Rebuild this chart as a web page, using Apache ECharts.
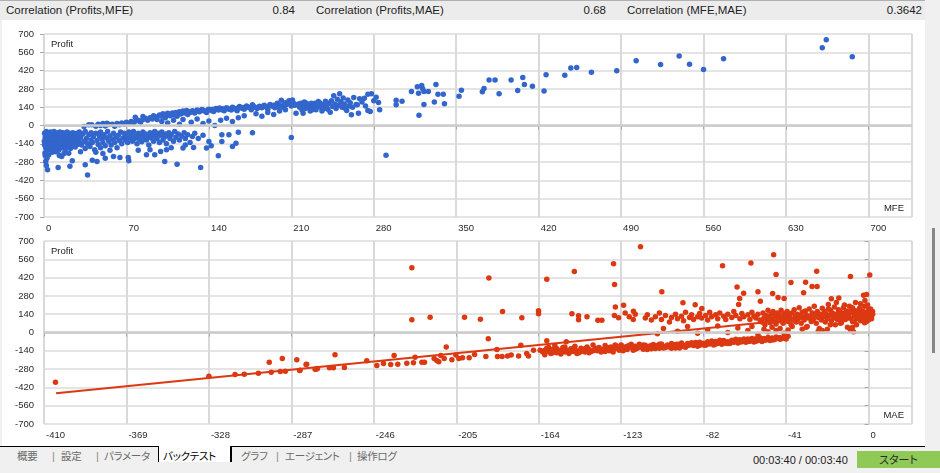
<!DOCTYPE html>
<html><head><meta charset="utf-8">
<script src="https://cdn.jsdelivr.net/npm/echarts@6/dist/echarts.min.js"></script>
<style>
html,body{margin:0;padding:0;width:940px;height:473px;overflow:hidden;background:#f0f0f0;font-family:'Liberation Sans',Arial,sans-serif;}
#white{position:absolute;left:2px;top:20px;width:923px;height:426px;background:#fff;}
#chart{position:absolute;left:0;top:0;width:940px;height:473px;}
#hdr{position:absolute;left:0;top:0;width:925px;height:20px;background:#ececec;border-top:1px solid #b0b0b0;box-sizing:border-box;font-size:11.5px;color:#1e1e1e;}
#hdr span{position:absolute;top:3px;white-space:nowrap;}
#scroll{position:absolute;left:925px;top:0;width:15px;height:447px;background:#f0f0f0;}
#thumb{position:absolute;left:932px;top:228px;width:3px;height:125px;background:#878787;}
#tabs{position:absolute;left:0;top:446px;width:940px;height:27px;background:#f0f0f0;}
#tabline{position:absolute;left:0;top:0;width:925px;height:1px;background:#000;}
.tab{position:absolute;top:3px;font-family:'Noto Sans CJK JP',sans-serif;font-size:10.5px;line-height:14px;color:#6a6a6a;white-space:nowrap;font-feature-settings:"palt";letter-spacing:-0.3px;}
.sep{position:absolute;top:3px;font-size:11px;line-height:14px;color:#8a8a8a;}
#sel{position:absolute;left:158px;top:0;width:71px;height:16px;background:#fff;border-left:1px solid #000;border-right:2px solid #000;}
#time{position:absolute;left:753px;top:8px;font-size:11px;color:#222;white-space:nowrap;}
#start{position:absolute;left:857px;top:5px;width:83px;height:17px;background:#8fca57;font-family:'Noto Sans CJK JP',sans-serif;font-size:11px;line-height:17px;text-align:center;color:#2a2a2a;font-feature-settings:"palt";}
</style></head>
<body>
<div id="white"></div>
<div id="chart"></div>
<div id="hdr"></div>
<div id="scroll"></div><div id="thumb"></div>
<div id="tabs"><div id="tabline"></div><div id="sel"></div></div>
<script>
// ---------- data ----------
const correlationNames = ["Correlation (Profits,MFE)", "Correlation (Profits,MAE)", "Correlation (MFE,MAE)"];
const correlationValues = ["0.84", "0.68", "0.3642"];
const tabNames = ["概要", "設定", "パラメータ", "バックテスト", "グラフ", "エージェント", "操作ログ"];
const timeText = "00:03:40 / 00:03:40";
const startText = "スタート";

const profitAxis = [-700, 700, 140];     // min, max, step
const mfeAxis = [0, 737, 70];
const maeAxis = [-410, 21.6, 41];

// MFE vs Profit (top)
const mfeProfitPoints = [
[0.5,-60],[1,-95],[1,-130],[1.5,-170],[2,-45],[2,-110],[2.5,-150],[3,-80],[3,-190],[3.5,-125],[4,-60],[4,-100],[4.5,-160],[5,-140],[5,-75],[5.5,-50],[6,-115],[6,-180],[6.5,-90],[7,-130],[7.5,-65],[8,-155],[8,-100],[8.5,-45],[9,-120],[9.5,-175],[10,-80],[10,-140],[10.5,-55],[11,-105],[11.5,-160],[12,-70],[12,-125],[12.5,-190],[13,-95],[13.5,-50],[14,-145],[14.5,-110],[15,-75],[15,-170],[15.5,-130],[16,-55],[16.5,-95],[17,-150],[17.5,-115],[18,-70],[18,-185],[18.5,-135],[19,-90],[19.5,-50],[20,-160],[20,-110],[20.5,-75],[21,-140],[21.5,-95],[22,-60],[22.5,-175],[23,-120],[23.5,-85],[24,-150],[24.5,-55],[25,-105],[25.5,-135],[26,-70],[26.5,-165],[27,-95],[27.5,-120],[28,-60],[28.5,-145],[29,-85],[29.5,-110],[30,-130],[30,-50],
[1,-230],[1.5,-275],[2,-306],[3,-339],[2.5,-250],[0.8,-210],[4,-225],[12,-321],[15,-237],[21,-212],[22,-311],[24,-270],[7,-205],[10,-200],[17,-215],[13,-230],[0.5,-150],[1.2,-80],[2.2,-190],[3.2,-55],[0.3,-120],
[31,-90],[32,-150],[33,-65],[34,-120],[35,-175],[35,-45],[36,-100],[37,-140],[38,-70],[39,-160],[40,-110],[40,-55],[41,-130],[42,-85],[43,-185],[44,-60],[45,-115],[46,-145],[47,-80],[48,-50],[48,-170],[49,-100],[50,-130],[51,-70],[52,-155],[53,-95],[54,-45],[55,-120],[56,-80],[57,-150],[58,-105],[59,-60],[60,-130],[61,-90],[62,-170],[63,-75],[64,-115],[65,-50],[66,-140],[67,-95],
[37,-378],[35,-301],[41,-265],[45,-275],[52,-250],[59,-237],[64.5,-245],[72,-270],[71.5,-245],[31,-200],[44,-205],[50,-215],[56,-190],
[68,-60],[69,-110],[70,-85],[71,-130],[72,-50],[73,-95],[74,-70],[75,-120],[76,-45],[77,-100],[78,-80],[79,-140],[80,-60],[81,-105],[82,-75],[83,-125],[84,-50],[85,-90],[86,-65],[87,-110],[88,-80],[89,-150],[90,-55],[91,-95],[92,-70],[93,-120],[94,-45],[95,-85],[96,-100],[97,-60],[98,-130],[99,-75],[100,-50],[101,-110],[102,-90],[103,-65],[104,-140],[105,-80],[106,-55],[107,-100],[108,-70],[110,-120],[111,-45],[112,-90],[114,-65],[115,-110],[117,-80],[119,-55],[120,-100],[122,-70],[124,-130],[126,-85],[128,-60],
[87,-224],[94,-224],[102.5,-275],[113,-296],[99,-199],[104,-186],[133,-321],[118,-173],[127,-168],[138,-173],[148,-232],[140,-122],[151,-71],[151,-122],[157,-71],[160,-161],[163,-135],[165,-51],[177,-56],[210,-92],[131,-100],[135,-75],[142,-155],[108,-170],[90,-185],[80,-190],[120,-150],
[34,-8],[38,5],[40.5,5],[44,-5],[46,10],[48,0],[50,15],[52,-3],[53.5,18],[55,8],
[58,10],[60,-5],[62,15],[64,5],[66,20],[68,10],[70,25],[72,15],[74,30],[76,20],[77.5,64],[78,35],[80,40],[82,25],[84,69],[84,45],[86,55],[88,40],[90,60],[92,50],[93,75],[95,65],[96,45],[98,80],[100,70],[101,90],[103,60],[104,85],[105,94],[107,75],[109,95],[110,80],[112,100],[113,70],[115,105],[116,88],[118,110],[119,95],[121,115],[122,85],[124,100],[126,112],[128,95],[130,118],[132,105],[134,122],[136,110],[138,100],[140,125],[142,115],[144,108],[146,130],[148,118],[149,133],[151,120],[153,112],[155,135],[157,125],[159,118],[160,140],[162,128],[164,112],[166,145],[168,132],[170,125],[172,150],[174,138],[176,120],[177,158],[179,140],[181,130],[183,148],[185,135],[187,155],[189,140],[190,125],[192,160],[194,148],[196,135],[198,170],[200,155],[201.5,194],[203,140],[205,175],[206,160],[208,189],[210,150],[211,196],[212,170],[214,94],[216,165],[218,150],[220,94],[222,175],[224,140],[226,160],[228,120],[230,170],[232,145],[233,184],
[102,80],[106,88],[111,92],[114,100],[117,98],[120,105],[123,108],[127,104],[131,112],[135,116],[139,118],[143,122],[147,124],[152,128],[156,130],[161,133],[165,136],[169,138],[173,142],[178,145],[182,140],[186,148],[191,150],[195,155],[199,145],[204,158],[209,165],[213,155],[219,160],[223,155],[229,150],
[100,30],[105,20],[110,40],[115,10],[118,45],[125,25],[130,50],[135,15],[140,35],[145,0],[150,40],[155,55],[160,30],[165,60],[170,75],[180,90],[185,70],[190,100],[195,85],[200,110],[205,120],
[217,140],[218,170],[219,120],[221,180],[222,130],[224,165],[225,145],[226,110],[227,170],[228,135],[231,120],[232,150],[234,175],[235,140],[236,110],[237,160],[238,130],[239,185],[240,150],[241,125],[242,170],[243,102],[244,190],[245,145],[246,227],[247,165],[248,130],[249,200],[250,155],[251,242],[252,180],[253,140],[254,210],[255,165],[256,130],[257,115],[258,195],[259,150],[260,175],[261,82],[262,140],[263,215],[265,160],[266,158],[267,94],[268,204],[270,180],[272,209],[273,150],[275,240],[275,115],[277,107],[278,242],[280,190],[282,217],[284,176],[285,120],[290.4,-227],
[299,194],[299,158],[304,186],[312,260],[317,296],[318,247],[318.4,79],[320.7,306],[321.5,281],[322.6,260],[322.6,161],[326.3,260],[331.4,179],[332.8,314],[334.5,240],[339,240],[340,166],[352.4,224],[354.4,270],[372.2,258],[373.6,283],[377.9,349],[383,349],[386.4,242],[396.6,349],[402.2,268],[406.5,367],[407.9,314],[414.7,301],[424.6,263],[426.3,388],[442.2,385],[447.3,439],[452.3,444],[464.8,408],[486.3,418],
[502.8,495],[523.5,467],[539.3,531],[548.1,469],[560,429],[577,510],[660.8,594],[664.2,656],[686.3,526]
];

// MAE vs Profit (bottom)
const maeProfitPoints = [
[-404.3,-380],[-328,-334],[-315,-321],[-310.4,-319],[-303.4,-311],[-298,-227],[-297,-304],[-292.5,-298],[-291.5,-199],[-290,-296],[-284.3,-209],[-282.9,-291],[-279.4,-242],[-275.2,-281],[-274,-276],
[-282.7,-288],[-279.7,-245],[-274.7,-281],[-268.1,-270],[-266.1,-270],[-265.3,-171],[-260.6,-268],[-249.5,-217],[-244.5,-253],[-241.2,-237],[-237.6,-245],[-235.9,-176],[-234.1,-242],[-229.6,-235],[-227.1,495],[-227.1,97],[-226.3,-232],[-225.5,-189],[-222.1,-227],[-220.8,-227],[-218,117],[-216,-199],[-214.7,-214],[-213.7,-224],[-212.7,-176],[-211,-199],[-210,-110],[-207.2,-209],[-205.2,-173],[-203.7,-199],[-201.9,-194],[-200.9,117],[-198.6,-194],[-195.9,-168],[-193,102],[-190.3,-184],[-189.1,-48],[-188.8,416],[-184.8,-130],[-184.5,-184],[-182.2,-184],[-182,161],[-179.5,-179],[-177.7,-173],[-174,-179],[-172.9,-97],[-172.4,112],[-170,-161],[-169.1,-179],[-166.6,-135],[-164.1,166],[-164.1,143],[-163.3,-135],[-160,408],[-160,-64],
[-162,-150],[-161,-170],[-160,-120],[-159,-145],[-158,-160],[-157,-130],[-156,-100],[-155,-155],[-154,-140],[-153,-165],[-152,-115],[-151,-150],[-150,-135],[-150.3,-71],[-149,-160],[-148,-125],[-147,-145],[-146,-105],[-145,-140],[-144,-155],[-143,-120],[-142,-135],[-141,-150],[-140,-110],[-139,-130],[-138,-145],[-137,-95],[-136,-125],[-135,-140],[-134,-115],[-133,-150],[-132,-130],[-131,-100],[-130,-120],[-129,-140],[-128,-110],[-127,-130],[-126,-95],[-125,-120],[-124,-135],
[-161,-135],[-159,-115],[-157,-155],[-155,-125],[-153,-140],[-151,-110],[-149,-140],[-147,-120],[-145,-160],[-143,-145],[-141,-125],[-139,-155],[-137,-140],[-135,-120],[-133,-130],[-131,-145],[-129,-115],[-127,-150],[-125,-105],[-124,-115],
[-147.5,143],[-146.3,467],[-144.2,128],[-144.2,97],[-140,120],[-134.6,94],[-132.6,94],[-126.8,526],[-126.3,367],[-125.9,196],[-126.4,130],[-124.3,112],
[-123,-95],[-122,-125],[-121,-110],[-120,-130],[-119,-100],[-118,-115],[-117,-135],[-116,-105],[-115,-120],[-114,-90],[-113,-112],[-112,-128],[-111,-98],[-110,-115],[-109,-105],[-108,-125],[-107,-92],[-106,-110],[-105,-100],[-104,-120],[-103,-88],[-102,-105],[-101,-115],[-100,-95],[-99,-110],[-98,-85],[-97,-100],[-96,-118],[-95,-90],[-94,-105],[-93,-80],[-92,-98],[-91,-112],[-90,-85],[-89,-95],[-88,-78],[-87,-100],[-86,-88],[-85,-105],[-84,-75],[-83,-92],[-82,-82],[-81,-98],[-80,-70],[-79,-88],[-78,-78],[-77,-95],[-76,-68],[-75,-85],[-74,-74],[-73,-90],[-72,-62],[-71,-80],[-70,-70],[-69,-85],[-68,-60],[-67,-75],[-66,-66],[-65,-80],[-64,-55],[-63,-70],[-62,-62],[-61,-75],[-60,-50],[-59,-66],[-58,-58],[-57,-72],[-56,-48],[-55,-62],[-54,-55],[-53,-68],[-52,-45],[-51,-58],[-50,-50],[-49,-62],[-48,-42],[-47,-55],[-46,-48],[-45,-40],[-44,-52],[-43,-45],
[-122,-140],[-120,-105],[-118,-90],[-116,-128],[-114,-108],[-112,-95],[-110,-130],[-108,-100],[-106,-122],[-104,-90],[-102,-118],[-100,-108],[-98,-120],[-96,-92],[-94,-118],[-92,-108],[-90,-100],[-88,-92],[-86,-76],[-84,-98],[-82,-95],[-80,-86],[-78,-65],[-76,-88],[-74,-60],[-72,-80],[-70,-85],[-68,-72],[-66,-52],[-64,-72],[-62,-50],[-60,-68],[-58,-46],[-56,-66],[-54,-40],[-52,-60],[-50,-38],[-48,-55],[-46,-34],[-44,-40],[-42,-35],[-41,-50],[-40,-28],
[-111,110],[-110,135],[-108,95],[-106,120],[-104,150],[-103,100],[-101,130],[-99,80],[-98,115],[-96,140],[-95,105],[-93,125],[-92,90],[-91,155],[-89,115],[-88,135],[-87,100],[-85,120],[-84,145],[-83,110],[-81,130],[-80,95],[-79,155],[-78,120],[-76,135],[-75,105],[-74,150],[-72,125],[-71,100],[-70,140],[-68,115],[-67,160],[-66,130],[-64,105],[-63,145],[-62,120],[-60,135],[-59,100],[-58,155],[-57,125],[-56,110],[-55,140],[-54,95],
[-105,-10],[-102,30],[-95,10],[-90,45],[-85,-5],[-80,20],[-75,50],[-70,0],[-65,35],[-60,15],[-58,45],[-55,-15],[-52,25],[-50,5],[-48,40],[-46,15],[-44,30],[-42,-5],[-40,20],[-38,45],
[-53,80],[-52.5,150],[-52,110],[-51.5,60],[-51,130],[-50.5,95],[-50,170],[-49.5,120],[-49,75],[-48.5,140],[-48,100],[-47.5,160],[-47,85],[-46.5,125],[-46,65],[-45.5,150],[-45,105],[-44.5,135],[-44,90],[-43.5,170],[-43,115],[-42.5,70],[-42,145],[-41.5,100],[-41,125],[-40.5,160],[-40,85],[-39.5,135],[-39,110],[-38.5,60],[-38,150],[-37.5,95],[-37,175],[-36.5,120],[-36,80],[-35.5,140],[-35,105],[-34.5,190],[-34,130],[-33.5,70],[-33,155],[-32.5,115],[-32,95],[-31.5,165],[-31,135],[-30.5,45],[-30,110],[-29.5,180],[-29,125],[-28.5,85],[-28,150],[-27.5,100],[-27,200],[-26.5,135],[-26,70],[-25.5,160],[-25,115],[-24.5,30],[-24,140],[-23.5,95],[-23,185],[-22.5,120],[-22,160],[-21.5,80],[-21,140],[-20.5,105],[-20,215],[-19.5,130],[-19,170],[-18.5,90],[-18,150],[-17.5,120],[-17,195],[-16.5,60],[-16,140],[-15.5,100],[-15,175],[-14.5,130],[-14,155],[-13.5,75],[-13,120],[-12.5,190],[-12,145],[-11.5,100],[-11,165],[-10.5,40],[-10,130],[-9.5,200],[-9,110],[-8.5,155],[-8,85],[-7.5,175],[-7,130],[-6.5,230],[-6,105],[-5.5,150],[-5,120],[-4.5,185],[-4,90],[-3.5,140],[-3,165],[-2.5,110],[-2,200],[-1.5,130],[-1,155],[-0.5,95],[0,175],[0.5,120],[1,145],[1.5,105],[2,160],[0,135],[-1,85],[-2,120],[-3,100],[1,180],[-0.5,210],[-4,220],[-2.5,285],[-1,290],[-1.8,245],
[-19,60],[-17,110],[-15,150],[-13,95],[-11,130],[-9,160],[-7,90],[-5,170],[-3,130],[-1,110],[1,120],[2,140],[-20,180],[-16,230],[-12,210],[-8,190],[-6,150],[-4,115],[-2,150],[0,95],[1.5,130],[-14,70],[-10,110],[-6,60],[-2,75],
[-9,20],[-8,40],[-7.5,5],[-25,10],[-23,15],[-20.5,25],[-33,25],[-31,40],
[-121.8,209],[-116.9,163],[-113.4,656],[-102.8,311],[-92.3,227],[-86.2,212],[-82.9,184],[-72.6,510],[-65.4,349],[-64.1,260],[-64.6,214],[-62.1,301],[-58.5,531],[-55,311],[-53.8,240],[-47.2,594],[-46,444],[-47.7,298],[-45,268],[-42,260],[-38.6,383],[-32.3,304],[-31.3,385],[-28.1,352],[-25.6,352],[-25.8,469],[-18.5,258],[-14.8,263],[-9,429],[0.6,439],
[-121,150],[-119,120],[-117,100],[-116,140]
];
const maeTrendLine = [[-404,-465],[0,156]];

// ---------- page chrome ----------
const hdr = document.getElementById('hdr');
const nameX = [6, 316, 627], valRight = [295, 606, 922];
correlationNames.forEach((n, i) => {
  const a = document.createElement('span'); a.textContent = n; a.style.left = nameX[i] + 'px'; hdr.appendChild(a);
  const b = document.createElement('span'); b.textContent = correlationValues[i]; b.style.right = (925 - valRight[i]) + 'px'; hdr.appendChild(b);
});
const tabs = document.getElementById('tabs');
const tabX = [17, 61, 104, 163, 241, 285, 357];
const sepX = [52, 96, 276, 349];
tabNames.forEach((t, i) => {
  const d = document.createElement('div'); d.className = 'tab'; d.textContent = t; d.style.left = tabX[i] + 'px';
  if (i === 3) d.style.color = '#000';
  tabs.appendChild(d);
});
sepX.forEach(x => { const s = document.createElement('div'); s.className = 'sep'; s.textContent = '|'; s.style.left = x + 'px'; tabs.appendChild(s); });
const tm = document.createElement('div'); tm.id = 'time'; tm.textContent = timeText; tabs.appendChild(tm);
const st = document.createElement('div'); st.id = 'start'; st.textContent = startText; tabs.appendChild(st);

// ---------- chart ----------
const chart = echarts.init(document.getElementById('chart'), null, {renderer: 'canvas'});
const lblFont = {fontFamily: 'Liberation Sans', fontSize: 9.5, color: '#2a2a2a'};
function xAxisDef(idx, ax) {
  return {
    type: 'value', gridIndex: idx, min: ax[0], max: ax[1], interval: ax[2],
    axisLine: {show: false},
    axisTick: {show: true, length: 4, lineStyle: {color: '#a8a8a8'}},
    axisLabel: Object.assign({align: 'left', margin: 6, padding: [0, 0, 0, 2], showMaxLabel: false, hideOverlap: false}, lblFont),
    splitLine: {show: true, lineStyle: {color: '#d9d9d9', width: 2}}
  };
}
function yAxisDef(idx) {
  return {
    type: 'value', gridIndex: idx, min: profitAxis[0], max: profitAxis[1], interval: profitAxis[2],
    axisLine: {show: false},
    axisTick: {show: true, length: 4, lineStyle: {color: '#a8a8a8'}},
    axisLabel: Object.assign({margin: 10}, lblFont),
    splitLine: {show: true, lineStyle: {color: '#e4e4e4', width: 2}}
  };
}
const zeroLine = (xi) => ({
  type: 'line', xAxisIndex: xi, yAxisIndex: xi, data: [], z: 1, silent: true,
  markLine: {silent: true, symbol: 'none', label: {show: false}, animation: false,
    lineStyle: {color: '#cbcbcb', width: 2.5, type: 'solid'}, data: [{yAxis: 0}]}
});
const innerText = (x, y, t, align) => ({
  type: 'text', x: x, y: y, silent: true,
  style: {text: t, fill: '#222', font: '9.5px "Liberation Sans"', align: align, verticalAlign: 'middle', textAlign: align, textVerticalAlign: 'middle'}
});
chart.setOption({
  animation: false,
  backgroundColor: 'transparent',
  grid: [
    {left: 44, top: 34, width: 868, height: 183, show: true, borderColor: '#a9a9a9', borderWidth: 1, backgroundColor: '#fff'},
    {left: 44, top: 241, width: 868, height: 183, show: true, borderColor: '#a9a9a9', borderWidth: 1, backgroundColor: '#fff'}
  ],
  xAxis: [xAxisDef(0, mfeAxis), xAxisDef(1, maeAxis)],
  yAxis: [yAxisDef(0), yAxisDef(1)],
  graphic: [
    innerText(51, 44, 'Profit', 'left'),
    innerText(904, 208, 'MFE', 'right'),
    innerText(51, 251, 'Profit', 'left'),
    innerText(904, 415, 'MAE', 'right')
  ],
  series: [
    zeroLine(0), zeroLine(1),
    {type: 'scatter', xAxisIndex: 0, yAxisIndex: 0, data: mfeProfitPoints, symbolSize: 5.5, z: 3,
     itemStyle: {color: '#3366cc', opacity: 1}},
    {type: 'line', xAxisIndex: 1, yAxisIndex: 1, data: maeTrendLine, symbol: 'none', z: 2,
     lineStyle: {color: '#dc3912', width: 2}},
    {type: 'scatter', xAxisIndex: 1, yAxisIndex: 1, data: maeProfitPoints, symbolSize: 5.5, z: 3,
     itemStyle: {color: '#dc3912', opacity: 1}}
  ]
});
</script>
</body></html>
